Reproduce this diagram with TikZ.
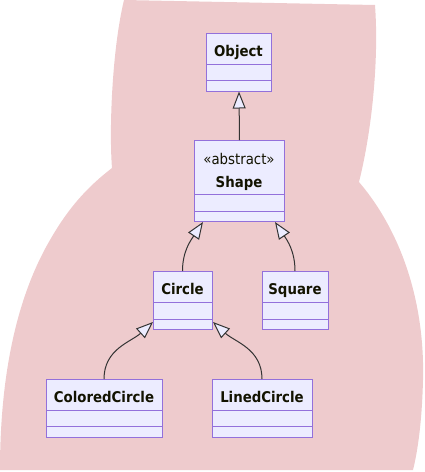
\documentclass[tikz,border=0pt]{standalone}
\usepackage{fontspec}
\newfontfamily\cfont{DejaVu Sans Condensed}
\usetikzlibrary{arrows.meta}
\definecolor{bgpink}{RGB}{238,203,205}
\definecolor{boxfill}{RGB}{236,236,255}
\definecolor{boxline}{RGB}{147,112,219}
\definecolor{edgecol}{RGB}{51,51,51}
\definecolor{txt}{RGB}{19,19,0}
\tikzset{
  cls/.style={draw=boxline, fill=boxfill, line width=1pt, inner sep=0pt, anchor=north west},
  divider/.style={draw=boxline, line width=1pt},
  lbl/.style={inner sep=0pt, anchor=base, text=txt, font=\cfont\fontsize{14.8}{16}\selectfont\bfseries},
  stereo/.style={inner sep=0pt, anchor=base, text=txt, font=\cfont\fontsize{14.8}{16}\selectfont},
  inherit/.style={draw=edgecol, line width=1pt, -{Triangle[open, fill=boxfill, width=13pt, length=17pt]}}
}
\begin{document}
\begin{tikzpicture}[x=1pt, y=-1pt]
\useasboundingbox (0,0) rectangle (424,472);
% background blob
\fill[bgpink] (124,0) -- (375,5)
  .. controls (379,60) and (372,130) .. (359,182)
  .. controls (400,230) and (425,300) .. (423,380)
  .. controls (422,420) and (418,450) .. (413,470)
  -- (0,470)
  .. controls (0,380) and (15,300) .. (50,240)
  .. controls (70,205) and (90,185) .. (112,168)
  .. controls (109,130) and (112,50) .. (124,0) -- cycle;

% Object
\node[cls, minimum width=65pt, minimum height=57.5pt] (object) at (206,33) {};
\draw[divider] (206,64) -- (271,64) (206,80) -- (271,80);
\node[lbl] (objectname) at (238.5,56) {Object};

% Shape
\node[cls, minimum width=90pt, minimum height=81pt] (shape) at (194,140) {};
\draw[divider] (194,194) -- (284,194) (194,211) -- (284,211);
\node[stereo] (shapestereo) at (239,164) {«abstract»};
\node[lbl] (shapename) at (239,187) {Shape};

% Circle
\node[cls, minimum width=59pt, minimum height=58pt] (circle) at (153,271) {};
\draw[divider] (153,302) -- (212,302) (153,319) -- (212,319);
\node[lbl] (circlename) at (182.5,294) {Circle};

% Square
\node[cls, minimum width=66pt, minimum height=58pt] (square) at (262,271) {};
\draw[divider] (262,302) -- (328,302) (262,319) -- (328,319);
\node[lbl] (squarename) at (295,294) {Square};

% ColoredCircle
\node[cls, minimum width=116pt, minimum height=58pt] (colored) at (46,379) {};
\draw[divider] (46,410) -- (162,410) (46,426) -- (162,426);
\node[lbl] (coloredname) at (104,402) {ColoredCircle};

% LinedCircle
\node[cls, minimum width=100pt, minimum height=58pt] (lined) at (212,379) {};
\draw[divider] (212,410) -- (312,410) (212,426) -- (312,426);
\node[lbl] (linedname) at (262,402) {LinedCircle};

% inheritance edges
\draw[inherit] (shape.north) -- (object.south);
\draw[inherit] ([xshift=29.5pt]circle.north west) .. controls +(0,-20) and +(-12,18) .. ([xshift=9pt]shape.south west);
\draw[inherit] ([xshift=33pt]square.north west) .. controls +(0,-20) and +(12,18) .. ([xshift=-10pt]shape.south east);
\draw[inherit] ([xshift=58pt]colored.north west) .. controls +(0,-30) and +(-22,20) .. ([yshift=8pt]circle.south west);
\draw[inherit] ([xshift=50pt]lined.north west) .. controls +(0,-30) and +(22,20) .. ([yshift=8pt]circle.south east);
\end{tikzpicture}
\end{document}
